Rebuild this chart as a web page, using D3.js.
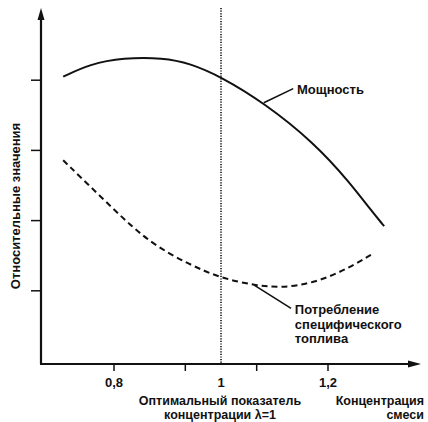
<!DOCTYPE html>
<html>
<head>
<meta charset="utf-8">
<script src="https://cdn.jsdelivr.net/npm/d3@7"></script>
<style>
  body { margin: 0; background: #fff; }
  text { font-family: "Liberation Sans Narrow", "Liberation Sans", Arial, sans-serif; fill: #111; }
</style>
</head>
<body>
<svg id="chart" width="428" height="422"></svg>
<script>
  // concentration (lambda) vs relative values
  const powerX = [0.705, 0.755, 0.817, 0.892, 0.942, 1.0, 1.08, 1.174, 1.241, 1.28, 1.305];
  const powerY = [4.05, 4.23, 4.32, 4.32, 4.24, 4.05, 3.68, 3.11, 2.54, 2.15, 1.92];
  const fuelX = [0.705, 0.802, 0.867, 0.942, 1.0, 1.062, 1.112, 1.174, 1.236, 1.286];
  const fuelY = [2.86, 2.14, 1.68, 1.37, 1.18, 1.08, 1.04, 1.11, 1.31, 1.54];
  const xTicks = [0.8, 0.9333, 1.0667, 1.2];
  const xTickLabels = [{v: 0.8, t: "0,8"}, {v: 1.0, t: "1"}, {v: 1.2, t: "1,2"}];
  const yTicks = [1, 2, 3, 4];
  const optimum = 1.0;

  const svg = d3.select("#chart");
  const ink = "#111";
  const fs = 13;
  const fsBottom = 12.5;

  const x = d3.scaleLinear().domain([0.8, 1.2]).range([114, 328]);
  const y = d3.scaleLinear().domain([0, 5]).range([361, 10]);

  const x0 = x(0.8) - 73;   // y axis position
  const yAxisPos = 364;

  // axes
  svg.append("line")
    .attr("x1", x0).attr("x2", x0)
    .attr("y1", yAxisPos).attr("y2", 14)
    .attr("stroke", ink).attr("stroke-width", 2.2);
  svg.append("path")
    .attr("d", `M${x0 - 3.5},${20} L${x0},${8} L${x0 + 3.5},${20} Z`)
    .attr("fill", ink);

  svg.append("line")
    .attr("x1", x0 - 1).attr("x2", 414)
    .attr("y1", yAxisPos).attr("y2", yAxisPos)
    .attr("stroke", ink).attr("stroke-width", 2.2);
  svg.append("path")
    .attr("d", `M${408},${yAxisPos - 3.5} L${421},${yAxisPos} L${408},${yAxisPos + 3.5} Z`)
    .attr("fill", ink);

  svg.append("g").selectAll("line")
    .data(yTicks)
    .join("line")
      .attr("x1", x0 - 10).attr("x2", x0)
      .attr("y1", d => y(d)).attr("y2", d => y(d))
      .attr("stroke", ink).attr("stroke-width", 1.5);

  svg.append("g").selectAll("line")
    .data(xTicks)
    .join("line")
      .attr("x1", d => x(d)).attr("x2", d => x(d))
      .attr("y1", yAxisPos).attr("y2", yAxisPos + 7)
      .attr("stroke", ink).attr("stroke-width", 1.5);

  svg.append("g").selectAll("text")
    .data(xTickLabels)
    .join("text")
      .attr("x", d => x(d.v))
      .attr("y", 387)
      .attr("text-anchor", "middle")
      .attr("font-size", fs)
      .attr("font-weight", "bold")
      .text(d => d.t);

  // optimum line
  svg.append("line")
    .attr("x1", x(optimum)).attr("x2", x(optimum))
    .attr("y1", 8).attr("y2", yAxisPos)
    .attr("stroke", ink).attr("stroke-width", 1.6)
    .attr("stroke-dasharray", "1.2,1.4");

  // curves
  const line = d3.line().curve(d3.curveBasis)
    .x(d => x(d[0])).y(d => y(d[1]));

  svg.append("path")
    .attr("d", line(d3.zip(powerX, powerY)))
    .attr("fill", "none").attr("stroke", ink).attr("stroke-width", 2);

  svg.append("path")
    .attr("d", line(d3.zip(fuelX, fuelY)))
    .attr("fill", "none").attr("stroke", ink).attr("stroke-width", 2)
    .attr("stroke-dasharray", "6,4");

  // annotations
  svg.append("line")
    .attr("x1", x(1.08)).attr("y1", y(3.68))
    .attr("x2", x(1.135)).attr("y2", y(3.88))
    .attr("stroke", ink).attr("stroke-width", 1.6);
  svg.append("text")
    .attr("x", x(1.142)).attr("y", y(3.88) + 5)
    .attr("font-size", fs).attr("font-weight", "bold")
    .text("Мощность");

  svg.append("line")
    .attr("x1", x(1.062)).attr("y1", y(1.08))
    .attr("x2", x(1.131)).attr("y2", y(0.75))
    .attr("stroke", ink).attr("stroke-width", 1.6);
  svg.append("text")
    .attr("font-size", fs).attr("font-weight", "bold")
    .selectAll("tspan")
    .data(["Потребление", "специфического", "топлива"])
    .join("tspan")
      .attr("x", x(1.138))
      .attr("y", (d, i) => 314 + i * 14.5)
      .text(d => d);

  // axis titles
  svg.append("text")
    .attr("transform", `translate(20,206) rotate(-90)`)
    .attr("text-anchor", "middle")
    .attr("font-size", fs).attr("font-weight", "bold")
    .text("Относительные значения");

  const bottomLines = [
    {anchor: "middle", x: 220, lines: ["Оптимальный показатель", "концентрации λ=1"]},
    {anchor: "end", x: 424, lines: ["Концентрация", "смеси"]}
  ];
  bottomLines.forEach(b => {
    svg.append("g").selectAll("text")
      .data(b.lines)
      .join("text")
        .attr("x", b.x)
        .attr("y", (d, i) => 405 + i * 14)
        .attr("text-anchor", b.anchor)
        .attr("font-size", fsBottom).attr("font-weight", "bold")
        .text(d => d);
  });
</script>
</body>
</html>
